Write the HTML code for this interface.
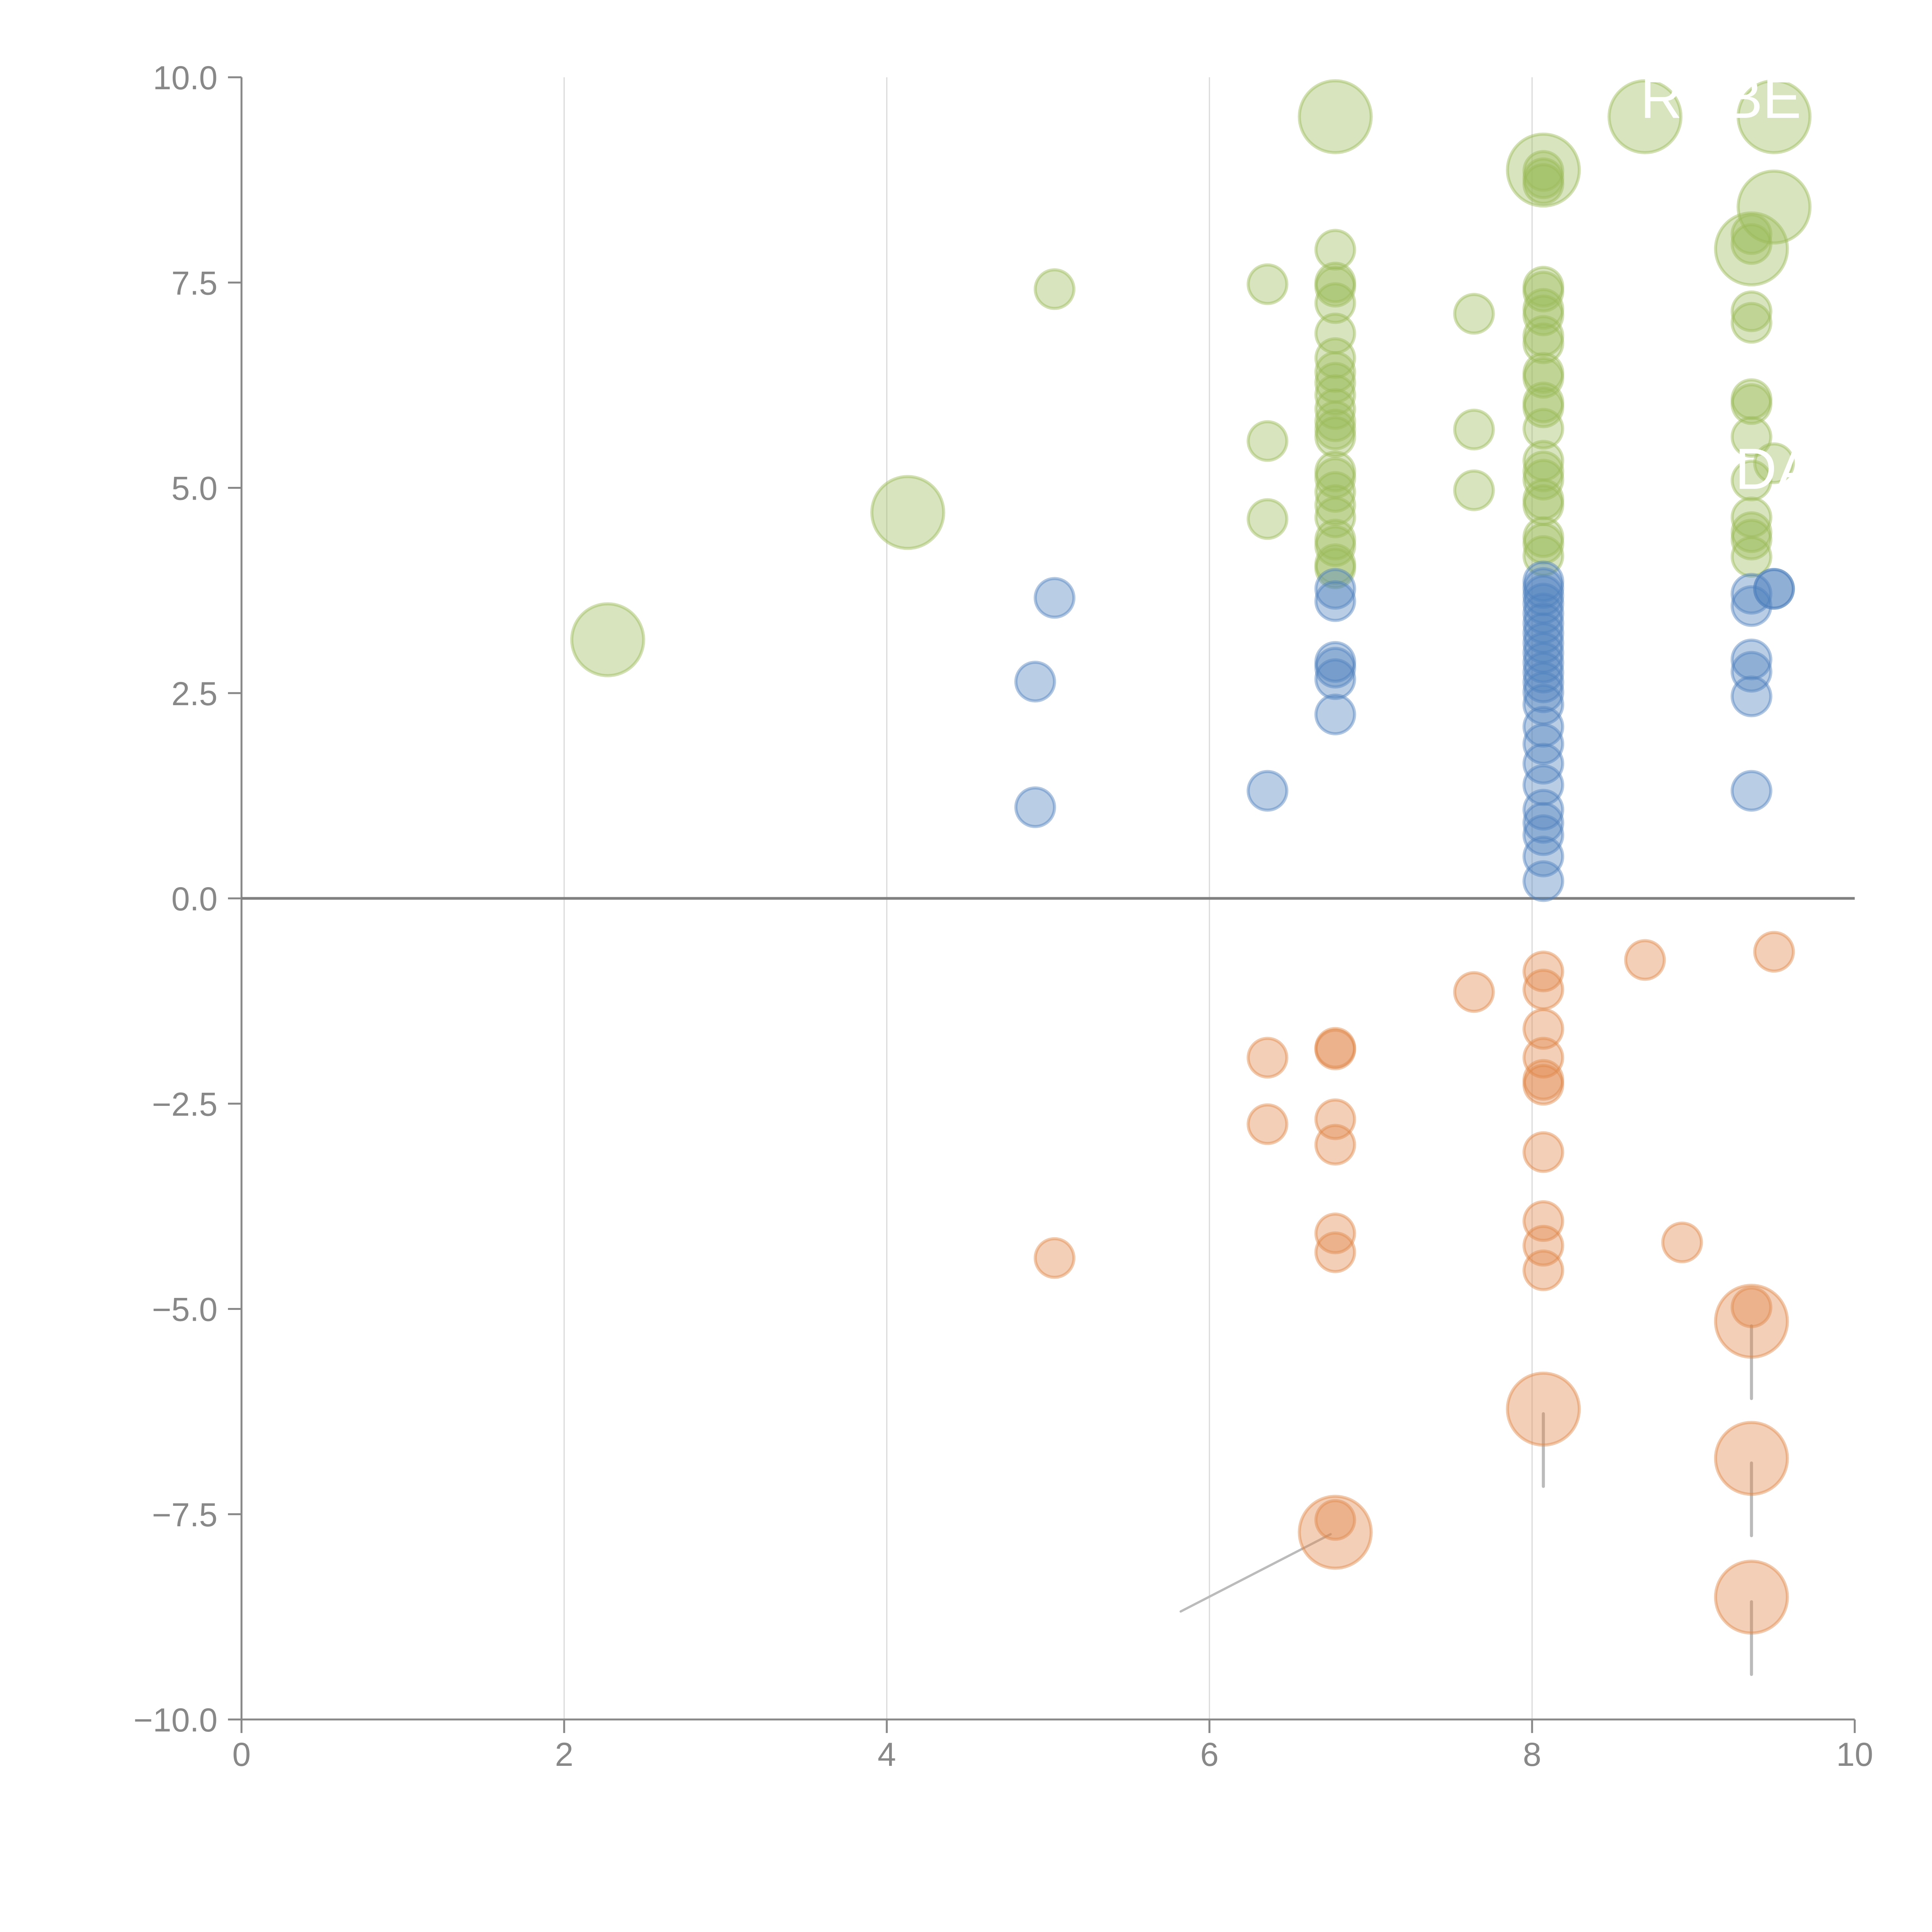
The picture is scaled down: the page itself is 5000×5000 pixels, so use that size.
<!DOCTYPE html>
<html><head><meta charset="utf-8"><style>html,body{margin:0;padding:0;background:#fff}svg{display:block}</style></head>
<body>
<svg id="chart" width="5000" height="5000" viewBox="0 0 5000 5000" xmlns="http://www.w3.org/2000/svg" font-family="Liberation Sans, sans-serif">
<g id="grid"></g>
<g id="axes"></g>
<g id="leaders"></g>
<g id="marks"></g>
<g id="labels"></g>
</svg>
<script>
const xTicks=[0,2,4,6,8,10];
const xTickLabels=["0","2","4","6","8","10"];
const yTicks=[10,7.5,5,2.5,0,-2.5,-5,-7.5,-10];
const yTickLabels=["10.0","7.5","5.0","2.5","0.0","\u22122.5","\u22125.0","\u22127.5","\u221210.0"];
const greenX=[2.27,4.13,5.04,6.36,6.36,6.36,6.78,6.78,6.78,6.78,6.78,6.78,6.78,6.78,6.78,6.78,6.78,6.78,6.78,6.78,6.78,6.78,6.78,6.78,6.78,6.78,6.78,6.78,6.78,7.64,7.64,7.64,8.07,8.07,8.07,8.07,8.07,8.07,8.07,8.07,8.07,8.07,8.07,8.07,8.07,8.07,8.07,8.07,8.07,8.07,8.07,8.07,8.07,8.07,8.07,9.36,9.36,9.36,9.36,9.36,9.36,9.36,9.36,9.36,9.36,9.36,9.36,9.36,9.5,9.5,9.5,8.7];
const greenY=[3.15,4.7,7.42,7.48,5.57,4.62,9.52,7.9,7.5,7.45,7.25,6.88,6.58,6.41,6.28,6.13,5.96,5.81,5.71,5.62,5.2,5.12,4.95,4.79,4.64,4.37,4.29,4.07,4.02,7.12,5.71,4.97,8.87,8.86,8.77,8.7,7.45,7.39,7.18,7.1,6.85,6.76,6.4,6.34,6.04,5.98,5.72,5.33,5.2,5.1,4.86,4.79,4.4,4.32,4.17,7.91,8.09,7.97,7.15,7.01,6.08,6.02,5.62,5.09,4.64,4.46,4.37,4.16,9.52,8.42,5.3,9.52];
const greenBig=[1,1,0,0,0,0,1,0,0,0,0,0,0,0,0,0,0,0,0,0,0,0,0,0,0,0,0,0,0,0,0,0,1,0,0,0,0,0,0,0,0,0,0,0,0,0,0,0,0,0,0,0,0,0,0,1,0,0,0,0,0,0,0,0,0,0,0,0,1,1,0,1];
const blueX=[5.04,4.92,4.92,6.36,6.78,6.78,6.78,6.78,6.78,6.78,8.07,8.07,8.07,8.07,8.07,8.07,8.07,8.07,8.07,8.07,8.07,8.07,8.07,8.07,8.07,8.07,8.07,8.07,8.07,8.07,8.07,8.07,8.07,9.36,9.36,9.36,9.36,9.36,9.36,9.5,9.5];
const blueY=[3.66,2.64,1.11,1.31,3.77,3.62,2.88,2.81,2.67,2.24,3.86,3.78,3.69,3.59,3.47,3.35,3.23,3.11,2.99,2.87,2.75,2.63,2.51,2.36,2.09,1.88,1.64,1.38,1.08,0.92,0.77,0.51,0.21,3.71,3.56,2.91,2.76,2.46,1.31,3.77,3.77];
const orangeX=[5.04,6.36,6.36,6.78,6.78,6.78,6.78,6.78,6.78,6.78,6.78,7.64,8.07,8.07,8.07,8.07,8.07,8.07,8.07,8.07,8.07,8.07,8.07,8.7,8.93,9.36,9.36,9.36,9.36,9.5];
const orangeY=[-4.38,-1.94,-2.75,-1.82,-1.84,-2.69,-3.0,-4.08,-4.31,-7.57,-7.72,-1.14,-0.89,-1.11,-1.59,-1.94,-2.21,-2.27,-3.09,-3.93,-4.23,-4.53,-6.22,-0.75,-4.19,-4.98,-5.15,-6.82,-8.51,-0.65];
const orangeBig=[0,0,0,0,0,0,0,0,0,0,1,0,0,0,0,0,0,0,0,0,0,0,1,0,0,0,1,1,1,0];

const X0=625,X1=4800,Y0=200,Y1=4450;
function sx(v){return X0+(v-0)/(10-0)*(X1-X0);}
function sy(v){return Y0+(10-v)/20*(Y1-Y0);}
const NS="http://www.w3.org/2000/svg";
function mk(tag,attrs,parent){const e=document.createElementNS(NS,tag);for(const k in attrs)e.setAttribute(k,attrs[k]);parent.appendChild(e);return e;}
const grid=document.getElementById('grid'),axes=document.getElementById('axes'),marks=document.getElementById('marks'),leaders=document.getElementById('leaders'),labels=document.getElementById('labels');

xTicks.forEach((t,i)=>{
  if(t>0&&t<10){const g=mk('line',{x1:sx(t),x2:sx(t),y1:Y0,y2:Y1,stroke:'#d9d9d9','stroke-width':3},grid);
  
  }
  const tk=mk('line',{x1:sx(t),x2:sx(t),y1:Y1,y2:Y1+35,stroke:'#888','stroke-width':5},axes);
  
  
  const tx=mk('text',{x:sx(t),y:Y1+120,'text-anchor':'middle','font-size':86,fill:'#888'},axes);
  tx.textContent=xTickLabels[i];
  
  
});
yTicks.forEach((t,i)=>{
  const tk=mk('line',{x1:X0-35,x2:X0,y1:sy(t),y2:sy(t),stroke:'#888','stroke-width':5},axes);
  
  
  const tx=mk('text',{x:X0-62,y:sy(t)+31,'text-anchor':'end','font-size':86,fill:'#888'},axes);
  tx.textContent=yTickLabels[i];
  
  
});
const ya=mk('line',{x1:X0,x2:X0,y1:Y0,y2:Y1,stroke:'#888','stroke-width':5},axes);


const xa=mk('line',{x1:X0,x2:X1,y1:Y1,y2:Y1,stroke:'#888','stroke-width':5},axes);


const zl=mk('line',{x1:X0,x2:X1,y1:sy(0),y2:sy(0),stroke:'#808080','stroke-width':7},axes);



function series(xs,ys,big,color,name){
  xs.forEach((x,i)=>{
    const r=(big&&big[i])?93:50;
    const c=mk('circle',{cx:sx(x),cy:sy(ys[i]),r:r,fill:color,'fill-opacity':0.4,stroke:color,'stroke-opacity':0.45,'stroke-width':8},marks);
    
    
  });
}
series(greenX,greenY,greenBig,'#9bbb59','green-bubble');
series(blueX,blueY,null,'#4f81bd','blue-bubble');
series(orangeX,orangeY,orangeBig,'#e0884a','orange-bubble');

orangeX.forEach((x,i)=>{
  if(!orangeBig[i])return;
  let l;
  if(x<7){l=mk('line',{x1:sx(x)-12,y1:sy(orangeY[i])+5,x2:sx(x)-400,y2:sy(orangeY[i])+205,stroke:'#bbb','stroke-width':6,'stroke-linecap':'round'},leaders);}
  else{l=mk('line',{x1:sx(x),y1:sy(orangeY[i])+12,x2:sx(x),y2:sy(orangeY[i])+200,stroke:'#bbb','stroke-width':8,'stroke-linecap':'round'},leaders);}
  
  
});
const t1=mk('text',{x:4245,y:305,'font-size':150,fill:'#fff'},labels);
t1.textContent='RUBE';


const t2=mk('text',{x:4490,y:1265,'font-size':150,fill:'#fff'},labels);
t2.textContent='DA';


</script>
</body></html>
